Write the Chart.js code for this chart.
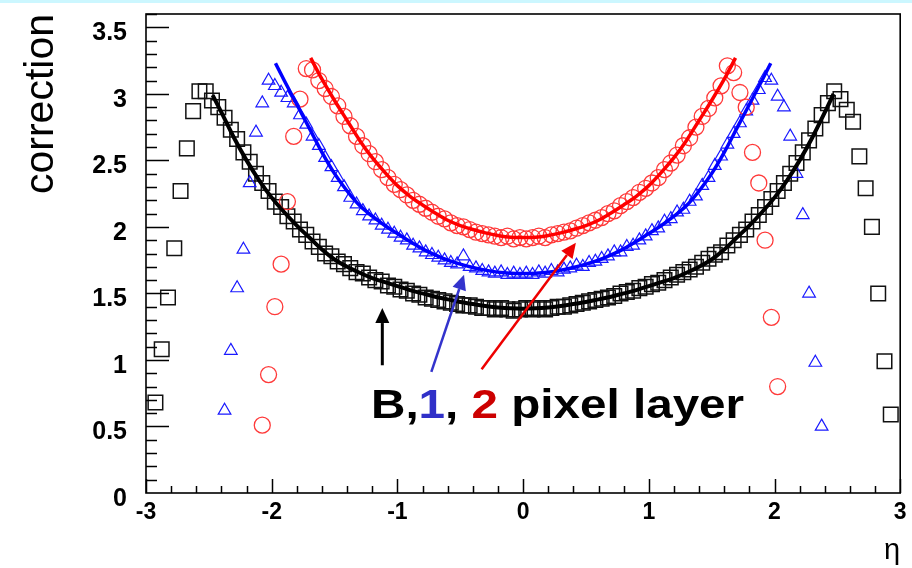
<!DOCTYPE html>
<html>
<head>
<meta charset="utf-8">
<script src="https://cdn.jsdelivr.net/npm/chart.js@4/dist/chart.umd.min.js"></script>
<style>
  html, body { margin: 0; padding: 0; background: #fff; overflow: hidden; }
  #wrap { position: relative; width: 912px; height: 568px; }
  #topband { position: absolute; left: 0; top: 0; width: 912px; height: 3px; background: #ccf7ff; }
  #note { position: absolute; left: 371px; top: 384px; font-family: "Liberation Sans", Arial, sans-serif;
          font-weight: bold; font-size: 40px; line-height: 1; color: #000; white-space: nowrap;
          transform: scaleX(1.19); transform-origin: left top; }
  #note .l1 { color: #3030c8; }
  #note .l2 { color: #cc0000; }
</style>
</head>
<body>
<div id="wrap">
  <canvas id="c" width="912" height="568"></canvas>
  <div id="topband"></div>
  <div id="note">B,<span class="l1">1</span>, <span class="l2">2</span> pixel layer</div>
</div>
<script>
// ---- data ----
const etaBins = [
 -2.925,-2.875,-2.825,-2.775,-2.725,-2.675,-2.625,-2.575,-2.525,-2.475,
 -2.425,-2.375,-2.325,-2.275,-2.225,-2.175,-2.125,-2.075,-2.025,-1.975,
 -1.925,-1.875,-1.825,-1.775,-1.725,-1.675,-1.625,-1.575,-1.525,-1.475,
 -1.425,-1.375,-1.325,-1.275,-1.225,-1.175,-1.125,-1.075,-1.025,-0.975,
 -0.925,-0.875,-0.825,-0.775,-0.725,-0.675,-0.625,-0.575,-0.525,-0.475,
 -0.425,-0.375,-0.325,-0.275,-0.225,-0.175,-0.125,-0.075,-0.025,0.025,
 0.075,0.125,0.175,0.225,0.275,0.325,0.375,0.425,0.475,0.525,
 0.575,0.625,0.675,0.725,0.775,0.825,0.875,0.925,0.975,1.025,
 1.075,1.125,1.175,1.225,1.275,1.325,1.375,1.425,1.475,1.525,
 1.575,1.625,1.675,1.725,1.775,1.825,1.875,1.925,1.975,2.025,
 2.075,2.125,2.175,2.225,2.275,2.325,2.375,2.425,2.475,2.525,
 2.575,2.625,2.675,2.725,2.775,2.825,2.875,2.925];

const layerB = [
 0.68,1.08,1.47,1.84,2.27,2.59,2.87,3.02,3.02,2.95,
 2.90,2.82,2.73,2.66,2.56,2.49,2.40,2.33,2.27,2.19,
 2.15,2.08,2.04,1.98,1.94,1.89,1.85,1.80,1.78,1.74,
 1.72,1.69,1.66,1.65,1.62,1.60,1.59,1.56,1.55,1.53,
 1.52,1.50,1.49,1.47,1.46,1.45,1.44,1.43,1.42,1.41,
 1.41,1.40,1.39,1.39,1.38,1.39,1.38,1.37,1.38,1.39,
 1.38,1.39,1.38,1.39,1.40,1.40,1.41,1.42,1.43,1.44,
 1.45,1.46,1.47,1.48,1.50,1.51,1.52,1.54,1.55,1.57,
 1.58,1.60,1.62,1.64,1.66,1.68,1.70,1.73,1.76,1.79,
 1.81,1.86,1.90,1.94,1.98,2.04,2.09,2.15,2.21,2.27,
 2.33,2.40,2.48,2.56,2.65,2.74,2.84,2.93,3.02,2.96,
 2.88,2.79,2.53,2.29,2.00,1.50,0.99,0.59];

const layer1 = [
 null,null,null,null,null,null,null,null,null,null,
 null,0.62,1.07,1.54,1.83,2.33,2.71,2.93,3.10,3.06,
 3.01,2.97,2.93,2.84,2.77,2.68,2.61,2.52,2.45,2.37,
 2.30,2.22,2.17,2.12,2.08,2.05,2.01,1.98,1.95,1.92,
 1.90,1.86,1.84,1.81,1.79,1.77,1.75,1.73,1.72,1.78,
 1.70,1.69,1.67,1.66,1.65,1.66,1.64,1.65,1.64,1.65,
 1.64,1.66,1.65,1.67,1.66,1.68,1.69,1.71,1.70,1.73,
 1.74,1.76,1.78,1.81,1.81,1.85,1.86,1.90,1.93,1.97,
 1.99,2.04,2.06,2.11,2.13,2.19,2.23,2.31,2.37,2.46,
 2.53,2.62,2.70,2.78,2.87,2.95,3.03,3.12,3.10,2.98,
 2.90,2.68,2.40,2.09,1.50,0.98,0.50,null,null,null,
 null,null,null,null,null,null,null,null];

const layer2 = [
 null,null,null,null,null,null,null,null,null,null,
 null,null,null,null,null,null,null,0.51,0.89,1.40,
 1.72,2.19,2.68,2.96,3.19,3.18,3.10,3.04,2.98,2.91,
 2.83,2.76,2.68,2.61,2.55,2.49,2.43,2.37,2.32,2.28,
 2.24,2.20,2.17,2.14,2.11,2.08,2.06,2.03,2.01,2.00,
 1.98,1.96,1.95,1.94,1.93,1.92,1.93,1.91,1.92,1.91,
 1.92,1.93,1.92,1.94,1.95,1.96,1.97,1.99,2.01,2.03,
 2.05,2.07,2.10,2.12,2.16,2.19,2.22,2.26,2.29,2.33,
 2.37,2.43,2.48,2.54,2.61,2.67,2.75,2.83,2.89,2.97,
 3.06,3.21,3.16,3.01,2.90,2.56,2.33,1.90,1.32,0.80,
 null,null,null,null,null,null,null,null,null,null,
 null,null,null,null,null,null,null,null];

// fitted curves
const fitB_eta = [-2.47,-2.4,-2.3,-2.2,-2.1,-2.0,-1.9,-1.8,-1.7,-1.6,-1.5,-1.4,-1.3,-1.2,-1.1,-1.0,-0.9,-0.8,-0.7,-0.6,-0.5,-0.4,-0.3,-0.2,-0.1,0.0,
                  0.1,0.2,0.3,0.4,0.5,0.6,0.7,0.8,0.9,1.0,1.1,1.2,1.3,1.4,1.5,1.6,1.7,1.8,1.9,2.0,2.1,2.2,2.3,2.4,2.47];
const fitB_val = [2.99,2.86,2.67,2.50,2.35,2.22,2.11,2.01,1.92,1.83,1.755,1.70,1.655,1.615,1.585,1.555,1.525,1.50,1.475,1.455,1.435,1.42,1.405,1.395,1.388,1.385,
                  1.388,1.395,1.405,1.42,1.435,1.455,1.475,1.50,1.525,1.555,1.585,1.615,1.655,1.70,1.755,1.83,1.92,2.01,2.11,2.22,2.35,2.50,2.67,2.86,3.00];
const fit1_eta = [-1.97,-1.9,-1.8,-1.7,-1.6,-1.5,-1.4,-1.3,-1.2,-1.1,-1.0,-0.9,-0.8,-0.7,-0.6,-0.5,-0.4,-0.3,-0.2,-0.1,0.0,
                  0.1,0.2,0.3,0.4,0.5,0.6,0.7,0.8,0.9,1.0,1.1,1.2,1.3,1.4,1.5,1.6,1.7,1.8,1.9,1.97];
const fit1_val = [3.23,3.10,2.92,2.74,2.56,2.40,2.27,2.16,2.08,2.01,1.95,1.89,1.835,1.79,1.75,1.72,1.695,1.675,1.66,1.652,1.65,
                  1.652,1.66,1.675,1.695,1.72,1.75,1.79,1.835,1.89,1.95,2.01,2.08,2.16,2.27,2.40,2.56,2.74,2.92,3.10,3.23];
const fit2_eta = [-1.69,-1.6,-1.5,-1.4,-1.3,-1.2,-1.1,-1.0,-0.9,-0.8,-0.7,-0.6,-0.5,-0.4,-0.3,-0.2,-0.1,0.0,
                  0.1,0.2,0.3,0.4,0.5,0.6,0.7,0.8,0.9,1.0,1.1,1.2,1.3,1.4,1.5,1.6,1.69];
const fit2_val = [3.27,3.11,2.95,2.80,2.65,2.52,2.41,2.31,2.23,2.165,2.105,2.05,2.01,1.98,1.955,1.935,1.922,1.92,
                  1.922,1.935,1.955,1.98,2.01,2.05,2.105,2.165,2.23,2.31,2.41,2.52,2.65,2.80,2.95,3.11,3.27];

const xTickVals = [-3,-2,-1,0,1,2,3];
const xTickLabels = ['-3','-2','-1','0','1','2','3'];
const yTickVals = [0,0.5,1,1.5,2,2.5,3,3.5];
const yTickLabels = ['0','0.5','1','1.5','2','2.5','3','3.5'];

// arrows (data coordinates: tail -> head)
const arrowTail = [[-1.12,0.96],[-0.73,0.91],[-0.33,0.93]];
const arrowHead = [[-1.12,1.39],[-0.47,1.64],[0.42,1.88]];
const arrowColor = ['#000000','#3333cc','#ee0000'];

// ---- helpers ----
function pts(xs, ys) {
  const out = [];
  for (let i = 0; i < xs.length; i++) if (ys[i] !== null) out.push({x: xs[i], y: ys[i]});
  return out;
}

const FONT = '"Liberation Sans", Arial, Helvetica, sans-serif';

const framePlugin = {
  id: 'frame',
  afterDraw(chart) {
    const {ctx, chartArea: a, scales: {x, y}} = chart;
    ctx.save();
    ctx.strokeStyle = '#000';
    ctx.lineWidth = 1.5;
    ctx.beginPath();
    for (let k = 1; k <= 36; k++) {
      const py = Math.round(y.getPixelForValue(k / 10)) + 0.5;
      const len = (k % 5 === 0) ? 23 : 11;
      ctx.moveTo(a.left, py); ctx.lineTo(a.left + len, py);
    }
    for (let k = -15; k <= 15; k++) {
      const px = Math.round(x.getPixelForValue(k / 5)) + 0.5;
      const len = (k % 5 === 0) ? 14 : 7;
      ctx.moveTo(px, a.bottom); ctx.lineTo(px, a.bottom - len);
    }
    ctx.stroke();
    ctx.lineWidth = 1.6;
    ctx.strokeRect(a.left, a.top, a.right - a.left, a.bottom - a.top);

    // arrows
    for (let i = 0; i < arrowTail.length; i++) {
      const x0 = x.getPixelForValue(arrowTail[i][0]), y0 = y.getPixelForValue(arrowTail[i][1]);
      const x1 = x.getPixelForValue(arrowHead[i][0]), y1 = y.getPixelForValue(arrowHead[i][1]);
      const ang = Math.atan2(y1 - y0, x1 - x0);
      const hl = 15, hw = 7;
      const bx = x1 - hl * Math.cos(ang), by = y1 - hl * Math.sin(ang);
      ctx.strokeStyle = arrowColor[i];
      ctx.fillStyle = arrowColor[i];
      ctx.lineWidth = i === 0 ? 3 : 2.5;
      ctx.beginPath(); ctx.moveTo(x0, y0); ctx.lineTo(bx, by); ctx.stroke();
      ctx.beginPath();
      ctx.moveTo(x1, y1);
      ctx.lineTo(bx + hw * Math.sin(ang), by - hw * Math.cos(ang));
      ctx.lineTo(bx - hw * Math.sin(ang), by + hw * Math.cos(ang));
      ctx.closePath(); ctx.fill();
    }
    ctx.restore();
  }
};

function fixBox(w, h) {
  return function (s) {
    if (w !== null) s.width = w;
    if (h !== null) s.height = h;
    s.paddingLeft = 0; s.paddingRight = 0; s.paddingTop = 0; s.paddingBottom = 0;
  };
}

new Chart(document.getElementById('c'), {
  type: 'scatter',
  data: {
    datasets: [
      { label: 'B', data: pts(etaBins, layerB), pointStyle: 'rect', pointRadius: 10.3, pointHoverRadius: 10.3,
        borderColor: '#111', backgroundColor: 'rgba(0,0,0,0)', pointBorderWidth: 1.5, showLine: false, order: 6 },
      { label: '1', data: pts(etaBins, layer1), pointStyle: 'triangle', pointRadius: 7.3, pointHoverRadius: 7.3,
        borderColor: '#1a1aff', backgroundColor: 'rgba(0,0,0,0)', pointBorderWidth: 1.2, showLine: false, order: 5 },
      { label: '2', data: pts(etaBins, layer2), pointStyle: 'circle', pointRadius: 8, pointHoverRadius: 8,
        borderColor: '#ff3a3a', backgroundColor: 'rgba(0,0,0,0)', pointBorderWidth: 1.3, showLine: false, order: 4 },
      { label: 'fitB', data: pts(fitB_eta, fitB_val), showLine: true, pointRadius: 0, borderColor: '#000',
        borderWidth: 4, tension: 0.4, cubicInterpolationMode: 'monotone', order: 3 },
      { label: 'fit1', data: pts(fit1_eta, fit1_val), showLine: true, pointRadius: 0, borderColor: '#0000ff',
        borderWidth: 3.5, tension: 0.4, cubicInterpolationMode: 'monotone', order: 2 },
      { label: 'fit2', data: pts(fit2_eta, fit2_val), showLine: true, pointRadius: 0, borderColor: '#ff0000',
        borderWidth: 3.5, tension: 0.4, cubicInterpolationMode: 'monotone', order: 1 }
    ]
  },
  options: {
    responsive: false,
    devicePixelRatio: 1,
    animation: false,
    events: [],
    layout: { padding: { left: 0, top: 14, right: 9, bottom: 0 } },
    plugins: { legend: { display: false }, tooltip: { enabled: false } },
    scales: {
      x: {
        type: 'linear', min: -3, max: 3,
        grid: { display: false, drawTicks: false },
        border: { display: false },
        afterBuildTicks: (s) => { s.ticks = xTickVals.map(v => ({ value: v })); },
        afterFit: fixBox(null, 75),
        ticks: { autoSkip: false, maxRotation: 0, padding: 6, color: '#000',
                 font: { family: FONT, size: 23, weight: 'bold' },
                 callback: (v) => xTickLabels[xTickVals.indexOf(v)] },
        title: { display: true, text: 'η', align: 'end', color: '#000',
                 font: { family: FONT, size: 29 }, padding: { top: 4, bottom: 0 } }
      },
      y: {
        type: 'linear', min: 0, max: 3.6,
        grid: { display: false, drawTicks: false },
        border: { display: false },
        afterBuildTicks: (s) => { s.ticks = yTickVals.map(v => ({ value: v })); },
        afterFit: fixBox(146, null),
        ticks: { autoSkip: false, padding: 19, labelOffset: 6, color: '#000',
                 font: { family: FONT, size: 25, weight: 'bold' },
                 callback: (v) => yTickLabels[yTickVals.indexOf(v)] },
        title: { display: true, text: 'correction', align: 'end', color: '#000',
                 font: { family: FONT, size: 41 }, padding: { top: 17, bottom: 0 } }
      }
    }
  },
  plugins: [framePlugin]
});
</script>
</body>
</html>
